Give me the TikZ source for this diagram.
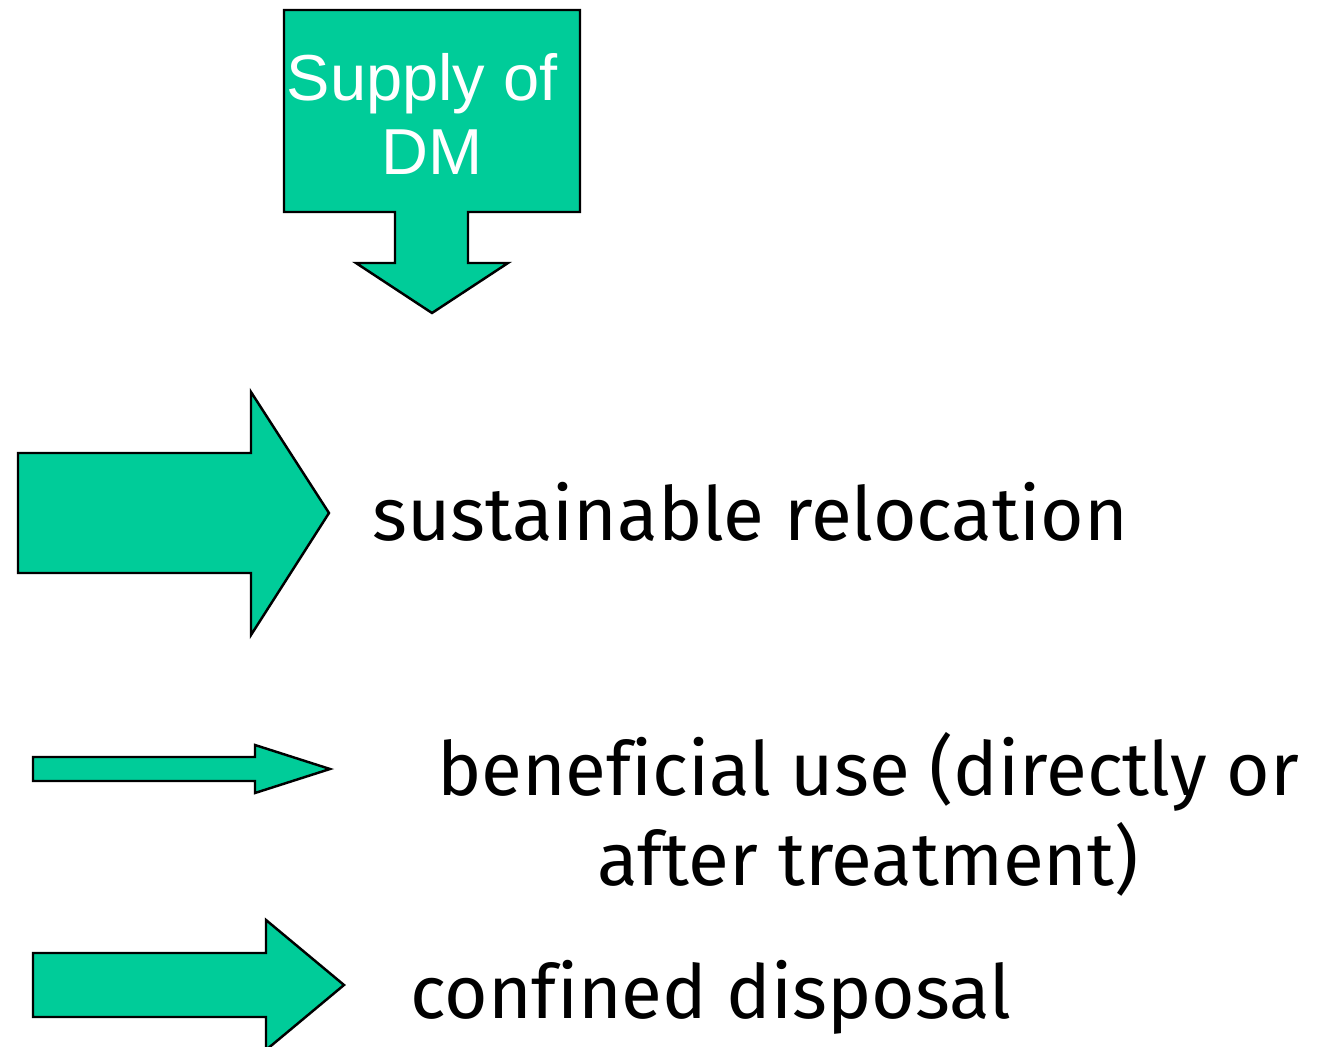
\documentclass[tikz,border=0pt]{standalone}
\usepackage{fontspec}
\setmainfont{Liberation Sans}
\newfontfamily\handfont[Ligatures=NoCommon]{Fira Sans}
\definecolor{dmgreen}{RGB}{0,204,153}
\tikzset{
  flow/.style={fill=dmgreen, draw=black, line width=1.4pt, line join=miter},
  outcome/.style={inner sep=0pt, font=\handfont\fontsize{42.5}{51}\selectfont},
  supplytext/.style={inner sep=0pt, align=center, text=white, font=\fontsize{37}{42.5}\selectfont}
}
\begin{document}
\begin{tikzpicture}[x=0.02cm, y=-0.02cm]
\useasboundingbox (0,0) rectangle (1325,1047);

% supply of DM
\draw[flow] (284,10) -- (580,10) -- (580,212) -- (468,212) -- (468,263) -- (508,263) -- (432,313)
  -- (356,263) -- (395,263) -- (395,212) -- (284,212) -- cycle;
\node[supplytext, anchor=base] (supply) at (432,175) {Supply of\kern0.3em\\DM};

% arrows
\draw[flow] (18,453) -- (251,453) -- (251,392) -- (329,513) -- (251,635) -- (251,573) -- (18,573) -- cycle;
\draw[flow] (33,757) -- (255,757) -- (255,745) -- (330,769) -- (255,793) -- (255,781) -- (33,781) -- cycle;
\draw[flow] (33,953) -- (266,953) -- (266,920) -- (344,985) -- (266,1050) -- (266,1017) -- (33,1017) -- cycle;

% outcomes
\node[outcome, anchor=base west] (relocation) at (372,540) {sustainable relocation};
\node[outcome, anchor=base, align=center] (beneficial) at (868,885) {beneficial use (directly or\\after treatment)};
\node[outcome, anchor=base west] (disposal) at (410,1018) {confined disposal};

\end{tikzpicture}
\end{document}
